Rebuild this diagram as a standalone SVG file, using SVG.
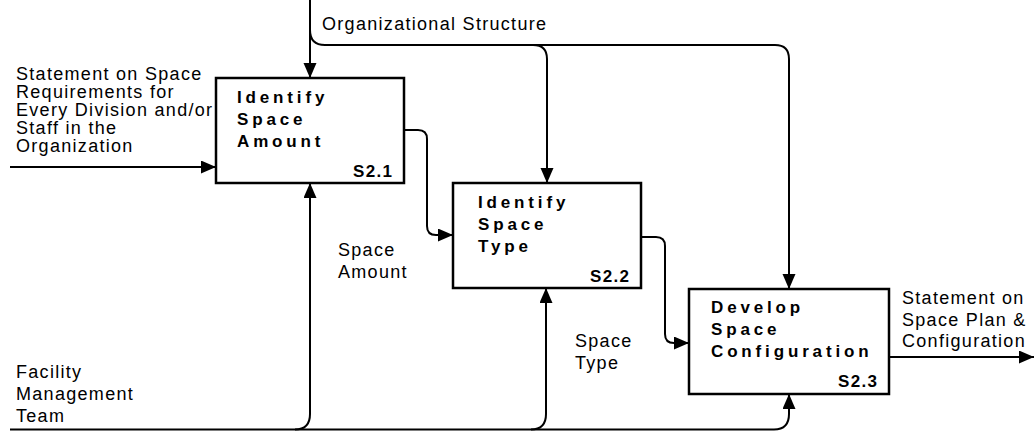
<svg xmlns="http://www.w3.org/2000/svg" width="1034" height="431" viewBox="0 0 1034 431">
<style>
.box{fill:#fff;stroke:#000;stroke-width:2.5}
.ln{fill:none;stroke:#000;stroke-width:2}
.lbl{font-family:"Liberation Sans",Arial,sans-serif;font-size:18px;letter-spacing:1.3px;fill:#000}
.ttl{font-family:"Liberation Sans",Arial,sans-serif;font-size:17px;font-weight:bold;letter-spacing:3.85px;fill:#000}
.id{font-family:"Liberation Sans",Arial,sans-serif;font-size:17px;font-weight:bold;letter-spacing:1.3px;fill:#000}
</style>
<defs>
<marker id="ah" markerUnits="userSpaceOnUse" markerWidth="16" markerHeight="14" refX="15" refY="6.5" orient="auto">
<path d="M0,0 L15,6.5 L0,13 z" fill="#000"/>
</marker>
</defs>
<rect width="1034" height="431" fill="#fff"/>
<g id="connectors">
<path class="ln" d="M310,0 V78" marker-end="url(#ah)"/>
<path class="ln" d="M310,30 Q310,45 325,45 H533 Q547,45 547,59 V183" marker-end="url(#ah)"/>
<path class="ln" d="M533,45 H775 Q789,45 789,59 V289" marker-end="url(#ah)"/>
<path class="ln" d="M10,167 H216" marker-end="url(#ah)"/>
<path class="ln" d="M404,130 H418 Q427,130 427,139 V226 Q427,235 436,235 H453" marker-end="url(#ah)"/>
<path class="ln" d="M641,237 H656 Q665,237 665,246 V334 Q665,343 674,343 H689" marker-end="url(#ah)"/>
<path class="ln" d="M889,357 H1034" marker-end="url(#ah)"/>
<path class="ln" d="M10,429.5 H295 Q310,429.5 310,414 V183" marker-end="url(#ah)"/>
<path class="ln" d="M295,429.5 H531 Q546,429.5 546,414 V288" marker-end="url(#ah)"/>
<path class="ln" d="M531,429.5 H774 Q789,429.5 789,414 V394" marker-end="url(#ah)"/>
</g>
<g id="labels">
<text class="lbl" x="322" y="30">Organizational Structure</text>
<text class="lbl" x="16" y="80">Statement on Space</text>
<text class="lbl" x="16" y="98">Requirements for</text>
<text class="lbl" x="16" y="116">Every Division and/or</text>
<text class="lbl" x="16" y="134">Staff in the</text>
<text class="lbl" x="16" y="152">Organization</text>
<text class="lbl" x="338" y="256">Space</text>
<text class="lbl" x="338" y="278">Amount</text>
<text class="lbl" x="575" y="347">Space</text>
<text class="lbl" x="575" y="369">Type</text>
<text class="lbl" x="16" y="378">Facility</text>
<text class="lbl" x="16" y="400">Management</text>
<text class="lbl" x="16" y="422">Team</text>
<text class="lbl" x="902" y="304">Statement on</text>
<text class="lbl" x="902" y="325.5">Space Plan &amp;</text>
<text class="lbl" x="902" y="347">Configuration</text>
</g>
<g id="S2.1">
<rect class="box" x="216" y="78" width="188" height="105"/>
<text class="ttl" x="237" y="103">Identify</text>
<text class="ttl" x="237" y="125">Space</text>
<text class="ttl" x="237" y="147">Amount</text>
<text class="id" x="353" y="177">S2.1</text>
</g>
<g id="S2.2">
<rect class="box" x="453" y="183" width="188" height="105"/>
<text class="ttl" x="478" y="208">Identify</text>
<text class="ttl" x="478" y="230">Space</text>
<text class="ttl" x="478" y="252">Type</text>
<text class="id" x="590" y="282">S2.2</text>
</g>
<g id="S2.3">
<rect class="box" x="689" y="289" width="200" height="105"/>
<text class="ttl" x="711" y="313">Develop</text>
<text class="ttl" x="711" y="335">Space</text>
<text class="ttl" x="711" y="357">Configuration</text>
<text class="id" x="838" y="387">S2.3</text>
</g>
</svg>
